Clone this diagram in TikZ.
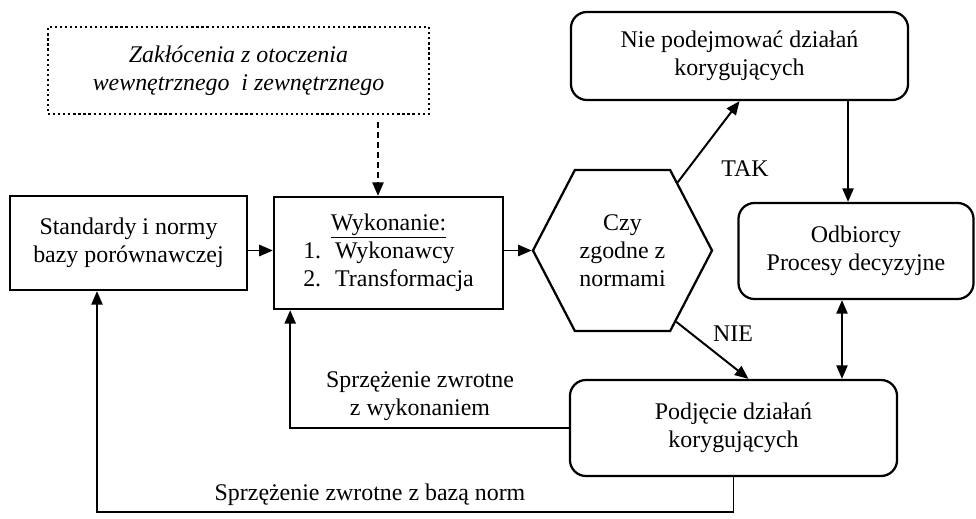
\documentclass[tikz,border=0pt]{standalone}
\usepackage{fontspec}
\setmainfont{Liberation Serif}
\usetikzlibrary{shapes,arrows.meta,positioning,calc}

\begin{document}
\begin{tikzpicture}[
    x=0.025cm, y=-0.025cm,
    font=\fontsize{17}{20}\selectfont,
    >={Triangle[length=0.34cm, width=0.28cm]},
    block/.style={rectangle, draw, line width=1.6pt, align=center, inner sep=0pt},
    rblock/.style={block, rounded corners=0.4cm},
    arr/.style={->, line width=1.4pt},
  ]
    \useasboundingbox (0,0) rectangle (976,519);

    % Inputs
    \node[block, dotted, line width=0.8pt, minimum width=9.525cm, minimum height=2.175cm,
          font=\fontsize{17}{20}\selectfont\itshape] (dist) at (238.5,70.5)
          {Zakłócenia z otoczenia\\wewnętrznego\ \ i zewnętrznego};
    \node[block, minimum width=5.925cm, minimum height=2.35cm] (std) at (128.5,243)
          {Standardy i normy\\bazy porównawczej};
    \node[block, minimum width=5.725cm, minimum height=2.8cm] (wyk) at (388.5,253)
          {\begin{tabular}{@{}l@{}}\multicolumn{1}{@{}c@{}}{\underline{Wykonanie:}}\\
           1.\hspace{0.35cm}Wykonawcy\\2.\hspace{0.35cm}Transformacja\end{tabular}};

    % Decision
    \node[signal, signal to=east and west, signal pointer angle=125, draw, line width=1.6pt,
          minimum width=4.475cm, minimum height=4.025cm, align=center, inner sep=0pt]
          (hex) at (622.5,250.5) {Czy\\zgodne z\\normami};

    % Outcomes
    \node[rblock, minimum width=8.425cm, minimum height=2.2cm] (nie) at (739.5,56)
          {Nie podejmować działań\\korygujących};
    \node[rblock, minimum width=5.875cm, minimum height=2.4cm] (odb) at (856,251)
          {Odbiorcy\\Procesy decyzyjne};
    \node[rblock, minimum width=8.175cm, minimum height=2.4cm] (pod) at (733.5,428)
          {Podjęcie działań\\korygujących};

    % Arrows
    \coordinate (dtop) at (378,122);
    \draw[arr, dash pattern=on 0.15cm off 0.1cm] (dtop) -- (dtop |- wyk.north);
    \draw[arr] (std.east |- hex.west) -- (wyk.west |- hex.west);
    \draw[arr] (wyk.east |- hex.west) -- (hex.west);
    \draw[arr] (hex.51) -- (nie.south);
    \draw[arr] (hex.-53) -- ([xshift=0.375cm]pod.north);
    \draw[arr] ([xshift=2.7125cm]nie.south) -- ([xshift=2.7125cm]nie.south |- odb.north);
    \draw[arr, <->] ([xshift=-0.35cm]odb.south) -- ([xshift=-0.35cm]odb.south |- pod.north);

    % Feedback loops
    \draw[arr] (pod.west) -| ($(wyk.south west)!0.075!(wyk.south east)$);
    \coordinate (fbl) at (97,512);
    \draw[arr] (pod.south) |- (fbl) -- (fbl |- std.south);

    % Labels
    \node[align=center] (fb1) at (420,396) {Sprzężenie zwrotne\\z wykonaniem};
    \node (fb2) at (370,495) {Sprzężenie zwrotne z bazą norm};
    \node (tak) at (745,169) {TAK};
    \node (nie-l) at (733,334) {NIE};
  \end{tikzpicture}
\end{document}
